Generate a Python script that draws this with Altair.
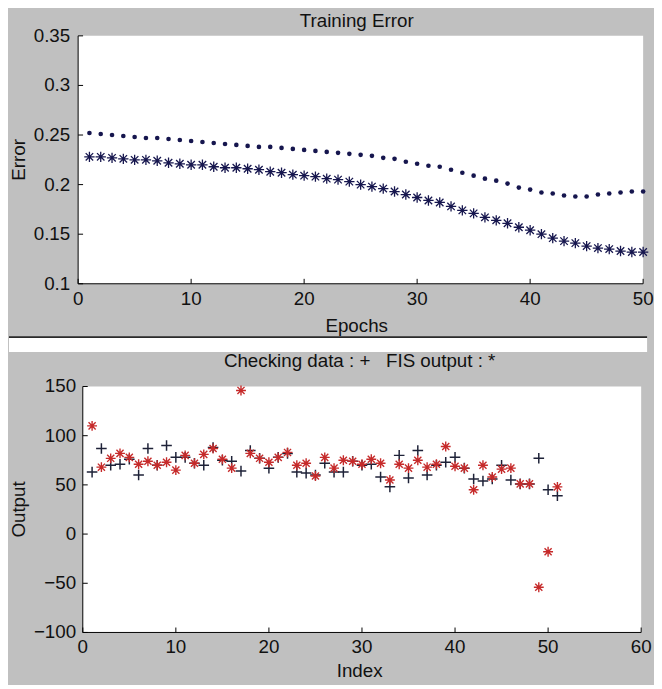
import altair as alt
import pandas as pd

# ---------------- data ----------------
epochs = list(range(1, 51))
checking_error = [0.252, 0.251, 0.250, 0.249, 0.248, 0.247, 0.247, 0.246, 0.245, 0.244,
                  0.243, 0.242, 0.241, 0.240, 0.239, 0.238, 0.238, 0.237, 0.236, 0.235,
                  0.234, 0.233, 0.232, 0.231, 0.230, 0.229, 0.227, 0.226, 0.223, 0.221,
                  0.219, 0.218, 0.215, 0.212, 0.209, 0.206, 0.204, 0.201, 0.197, 0.195,
                  0.192, 0.191, 0.189, 0.188, 0.188, 0.190, 0.191, 0.192, 0.193, 0.193]
training_error = [0.228, 0.228, 0.227, 0.226, 0.225, 0.225, 0.224, 0.222, 0.221, 0.220,
                  0.220, 0.218, 0.217, 0.217, 0.216, 0.215, 0.213, 0.212, 0.210, 0.209,
                  0.208, 0.206, 0.205, 0.203, 0.200, 0.198, 0.196, 0.193, 0.190, 0.187,
                  0.184, 0.182, 0.178, 0.174, 0.171, 0.167, 0.164, 0.161, 0.157, 0.154,
                  0.150, 0.146, 0.143, 0.141, 0.138, 0.136, 0.135, 0.133, 0.132, 0.132]

index = list(range(1, 52))
checking_data = [63, 87, 70, 71, 76, 60, 87, 70, 90, 78,
                 78, 72, 70, 88, 75, 74, 64, 85, 77, 67,
                 78, 82, 63, 62, 60, 72, 63, 63, 74, 70,
                 71, 58, 48, 80, 57, 85, 60, 70, 73, 78,
                 67, 56, 54, 56, 70, 55, 51, 51, 77, 45, 39]
fis_output = [110, 68, 77, 82, 78, 71, 74, 70, 73, 65,
              80, 72, 81, 87, 76, 67, 146, 82, 77, 73,
              78, 83, 70, 72, 59, 78, 67, 75, 74, 71,
              76, 72, 55, 71, 67, 75, 68, 71, 89, 69,
              67, 45, 70, 58, 66, 67, 51, 51, -54, -18, 48]

top_xticks = [0, 10, 20, 30, 40, 50]
top_yticks = [0.1, 0.15, 0.2, 0.25, 0.3, 0.35]
bot_xticks = [0, 10, 20, 30, 40, 50, 60]
bot_yticks = [-100, -50, 0, 50, 100, 150]

top_title = "Training Error"
bot_title = "Checking data : +\u00a0\u00a0\u00a0FIS output : *"

# ---------------- style ----------------
FONT = "Liberation Sans"
FS = 19
GRAY = "#c0c0c0"
NAVY = "#16164e"
PLUS_COL = "#1e2238"
RED = "#c62a2a"
TXT = "#111111"
PLUS = "M-1,0L1,0M0,-1L0,1"
STAR = "M-1,0L1,0M0,-1L0,1M-0.72,-0.72L0.72,0.72M-0.72,0.72L0.72,-0.72"

W1, H1 = 572, 251
W2, H2 = 570, 249
LEFT = 70

one = pd.DataFrame({"a": [0]})


def txt(**kw):
    base = dict(font=FONT, fontSize=FS, color=TXT)
    base.update(kw)
    return base


# ---------------- top panel ----------------
top_df = pd.DataFrame({"Epoch": epochs, "check": checking_error, "train": training_error})
xt_df1 = pd.DataFrame({"t": top_xticks})
yt_df1 = pd.DataFrame({"t": top_yticks})
xs1 = alt.Scale(domain=[0, 50], nice=False)
ys1 = alt.Scale(domain=[0.1, 0.35], nice=False, zero=False)

dots = alt.Chart(top_df).mark_circle(size=22, color=NAVY, opacity=1).encode(
    x=alt.X("Epoch:Q", scale=xs1, axis=None),
    y=alt.Y("check:Q", scale=ys1, axis=None),
)
stars1 = alt.Chart(top_df).mark_point(shape=STAR, size=110, filled=False,
                                      strokeWidth=1.3, color=NAVY, opacity=1).encode(
    x=alt.X("Epoch:Q", scale=xs1, axis=None),
    y=alt.Y("train:Q", scale=ys1, axis=None),
)
xdom1 = alt.Chart(one).mark_rule(color="black", strokeWidth=1).encode(
    x=alt.X(datum=0, scale=xs1, axis=None), x2=alt.X2(datum=50), y=alt.value(H1))
ydom1 = alt.Chart(one).mark_rule(color="black", strokeWidth=1).encode(
    x=alt.X(datum=0, scale=xs1, axis=None), y=alt.value(0), y2=alt.value(H1))
xt1 = alt.Chart(xt_df1).mark_rule(color="black", strokeWidth=1).encode(
    x=alt.X("t:Q", scale=xs1, axis=None), y=alt.value(H1), y2=alt.value(H1 - 5))
yt1 = alt.Chart(yt_df1).mark_rule(color="black", strokeWidth=1).encode(
    y=alt.Y("t:Q", scale=ys1, axis=None), x=alt.value(0), x2=alt.value(5))
xl1 = alt.Chart(xt_df1).mark_text(**txt(baseline="top", align="center")).encode(
    x=alt.X("t:Q", scale=xs1, axis=None), y=alt.value(H1 + 6),
    text=alt.Text("t:Q", format="d"))
yl1 = alt.Chart(yt_df1).mark_text(**txt(baseline="middle", align="right")).encode(
    y=alt.Y("t:Q", scale=ys1, axis=None), x=alt.value(-8),
    text=alt.Text("t:Q", format=".2~f"))
xtitle1 = alt.Chart(one).mark_text(**txt(baseline="top", align="center")).encode(
    x=alt.value(W1 / 2 - 4), y=alt.value(H1 + 34), text=alt.value("Epochs"))
ytitle1 = alt.Chart(one).mark_text(**txt(baseline="middle", align="center", angle=270)).encode(
    x=alt.value(-60), y=alt.value(H1 / 2), text=alt.value("Error"))
ttl1 = alt.Chart(one).mark_text(**txt(baseline="top", align="center")).encode(
    x=alt.value(W1 / 2 - 4), y=alt.value(-24), text=alt.value(top_title))

top = alt.layer(dots, stars1, xdom1, ydom1, xt1, yt1, xl1, yl1, xtitle1, ytitle1, ttl1).properties(
    width=W1, height=H1,
    view=alt.ViewBackground(fill="white"),
)

# ---------------- separator band ----------------
band = alt.Chart(one).mark_rect(color="white").encode(
    x=alt.value(-LEFT), x2=alt.value(W1 + 4), y=alt.value(2), y2=alt.value(16))
line = alt.Chart(one).mark_rule(color="#2a2a2a", strokeWidth=2).encode(
    x=alt.value(-LEFT), x2=alt.value(W1 + 4), y=alt.value(1))
spacer = alt.layer(band, line).properties(width=W1, height=16)

# ---------------- bottom panel ----------------
bot_df = pd.DataFrame({"Index": index, "check": checking_data, "fis": fis_output})
xt_df2 = pd.DataFrame({"t": bot_xticks})
yt_df2 = pd.DataFrame({"t": bot_yticks})
xs2 = alt.Scale(domain=[-0.5, 60], nice=False, zero=False)
ys2 = alt.Scale(domain=[-100, 150], nice=False, zero=False)

bg = alt.Chart(one).mark_rect(color="white").encode(
    x=alt.X(datum=0, scale=xs2, axis=None), x2=alt.X2(datum=60),
    y=alt.value(0), y2=alt.value(H2))
plus = alt.Chart(bot_df).mark_point(shape=PLUS, size=115, filled=False,
                                    strokeWidth=1.5, color=PLUS_COL, opacity=1).encode(
    x=alt.X("Index:Q", scale=xs2, axis=None),
    y=alt.Y("check:Q", scale=ys2, axis=None),
)
stars2 = alt.Chart(bot_df).mark_point(shape=STAR, size=100, filled=False,
                                      strokeWidth=1.4, color=RED, opacity=1).encode(
    x=alt.X("Index:Q", scale=xs2, axis=None),
    y=alt.Y("fis:Q", scale=ys2, axis=None),
)
xdom2 = alt.Chart(one).mark_rule(color="black", strokeWidth=1).encode(
    x=alt.X(datum=0, scale=xs2, axis=None), x2=alt.X2(datum=60), y=alt.value(H2))
ydom2 = alt.Chart(one).mark_rule(color="black", strokeWidth=1).encode(
    x=alt.X(datum=0, scale=xs2, axis=None), y=alt.value(0), y2=alt.value(H2))
xt2 = alt.Chart(xt_df2).mark_rule(color="black", strokeWidth=1).encode(
    x=alt.X("t:Q", scale=xs2, axis=None), y=alt.value(H2), y2=alt.value(H2 - 5))
yt2 = alt.Chart(yt_df2).mark_rule(color="black", strokeWidth=1, x2Offset=5).encode(
    y=alt.Y("t:Q", scale=ys2, axis=None),
    x=alt.X(datum=0, scale=xs2, axis=None), x2=alt.X2(datum=0))
xl2 = alt.Chart(xt_df2).mark_text(**txt(baseline="top", align="center")).encode(
    x=alt.X("t:Q", scale=xs2, axis=None), y=alt.value(H2 + 6),
    text=alt.Text("t:Q", format="d"))
yl2 = alt.Chart(yt_df2).mark_text(**txt(baseline="middle", align="right")).encode(
    y=alt.Y("t:Q", scale=ys2, axis=None), x=alt.value(-2),
    text=alt.Text("t:Q", format="d"))
xtitle2 = alt.Chart(one).mark_text(**txt(baseline="top", align="center")).encode(
    x=alt.value(W2 / 2), y=alt.value(H2 + 30), text=alt.value("Index"))
ytitle2 = alt.Chart(one).mark_text(**txt(baseline="middle", align="center", angle=270)).encode(
    x=alt.value(-60), y=alt.value(H2 / 2), text=alt.value("Output"))
ttl2 = alt.Chart(one).mark_text(**txt(baseline="top", align="center")).encode(
    x=alt.value(W2 / 2), y=alt.value(-35), text=alt.value(bot_title))

bottom = alt.layer(bg, plus, stars2, xdom2, ydom2, xt2, yt2, xl2, yl2,
                   xtitle2, ytitle2, ttl2).properties(width=W2, height=H2)

chart = alt.vconcat(top, spacer, bottom, spacing=0).properties(
    padding=0, background=GRAY
).configure_view(
    stroke=None
)

chart.save("out.html", embed_options={"renderer": "svg", "actions": False})
